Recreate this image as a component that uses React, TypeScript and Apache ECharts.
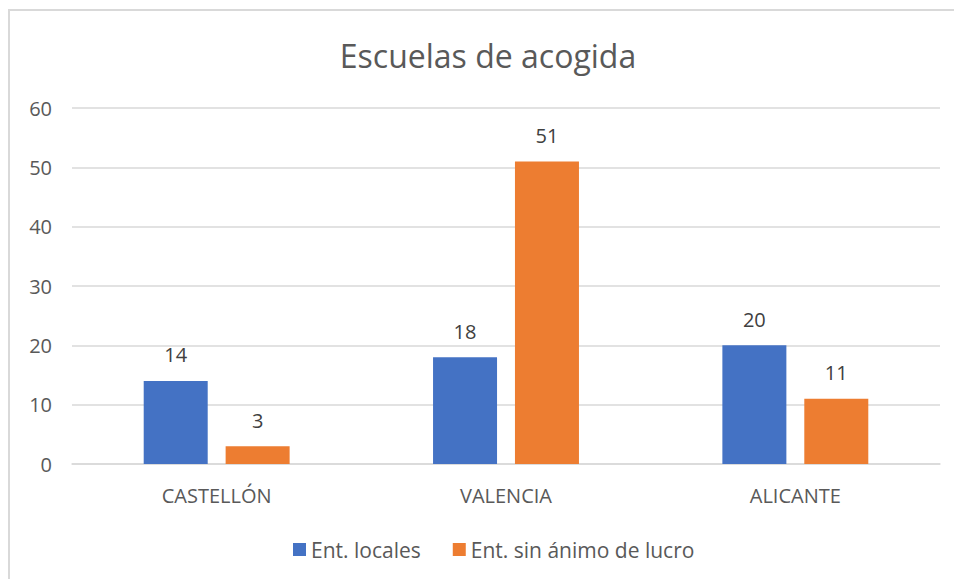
import React, { useEffect, useRef } from "react";
import * as echarts from "echarts";

const categories = ["CASTELLÓN", "VALENCIA", "ALICANTE"];
const localesValues = [14, 18, 20];
const sinAnimoValues = [3, 51, 11];
const seriesNames = ["Ent. locales", "Ent. sin ánimo de lucro"];
const titleText = "Escuelas de acogida";

export default function App() {
  const ref = useRef<HTMLDivElement>(null);
  useEffect(() => {
    if (!ref.current) return;
    const chart = echarts.init(ref.current, undefined, { renderer: "svg" });
    const font = "'Open Sans', 'Noto Sans', sans-serif";
    chart.setOption({
      animation: false,
      backgroundColor: "#ffffff",
      textStyle: { fontFamily: font },
      graphic: [
        {
          type: "rect",
          shape: { x: 9, y: 10, width: 1000, height: 700 },
          style: { fill: "none", stroke: "#d9d9d9", lineWidth: 2 },
          silent: true,
        },
        {
          type: "text",
          x: 488,
          y: 55,
          style: {
            text: titleText,
            fontSize: 32,
            fill: "#595959",
            fontFamily: font,
            align: "center",
            verticalAlign: "middle",
          },
          silent: true,
        },
      ],
      legend: {
        data: seriesNames,
        top: 534,
        left: 288,
        icon: "rect",
        itemWidth: 13,
        itemHeight: 13,
        itemGap: 32,
        textStyle: { fontSize: 21, color: "#595959", fontFamily: font },
      },
      grid: { left: 72, right: 14, top: 108, bottom: 115, containLabel: false },
      xAxis: {
        type: "category",
        data: categories,
        axisLine: { lineStyle: { color: "#d9d9d9", width: 1.5 } },
        axisTick: { show: false },
        axisLabel: { fontSize: 20, color: "#595959", margin: 21, fontFamily: font },
      },
      yAxis: {
        type: "value",
        min: 0,
        max: 60,
        interval: 10,
        axisLine: { show: false },
        axisTick: { show: false },
        splitLine: { lineStyle: { color: "#d9d9d9", width: 1.5 } },
        axisLabel: { fontSize: 20, color: "#595959", margin: 20, fontFamily: font },
      },
      series: [
        {
          name: seriesNames[0],
          type: "bar",
          data: localesValues,
          barWidth: 64,
          barGap: "28%",
          itemStyle: { color: "#4472C4" },
          label: { show: true, position: "top", distance: 16, fontSize: 20, color: "#404040", fontFamily: font },
        },
        {
          name: seriesNames[1],
          type: "bar",
          data: sinAnimoValues,
          barWidth: 64,
          barGap: "28%",
          itemStyle: { color: "#ED7D31" },
          label: { show: true, position: "top", distance: 16, fontSize: 20, color: "#404040", fontFamily: font },
        },
      ],
    });
    return () => chart.dispose();
  }, []);
  return (
    <div
      ref={ref}
      style={{ position: "fixed", left: 0, top: 0, width: 954, height: 579 }}
    />
  );
}
